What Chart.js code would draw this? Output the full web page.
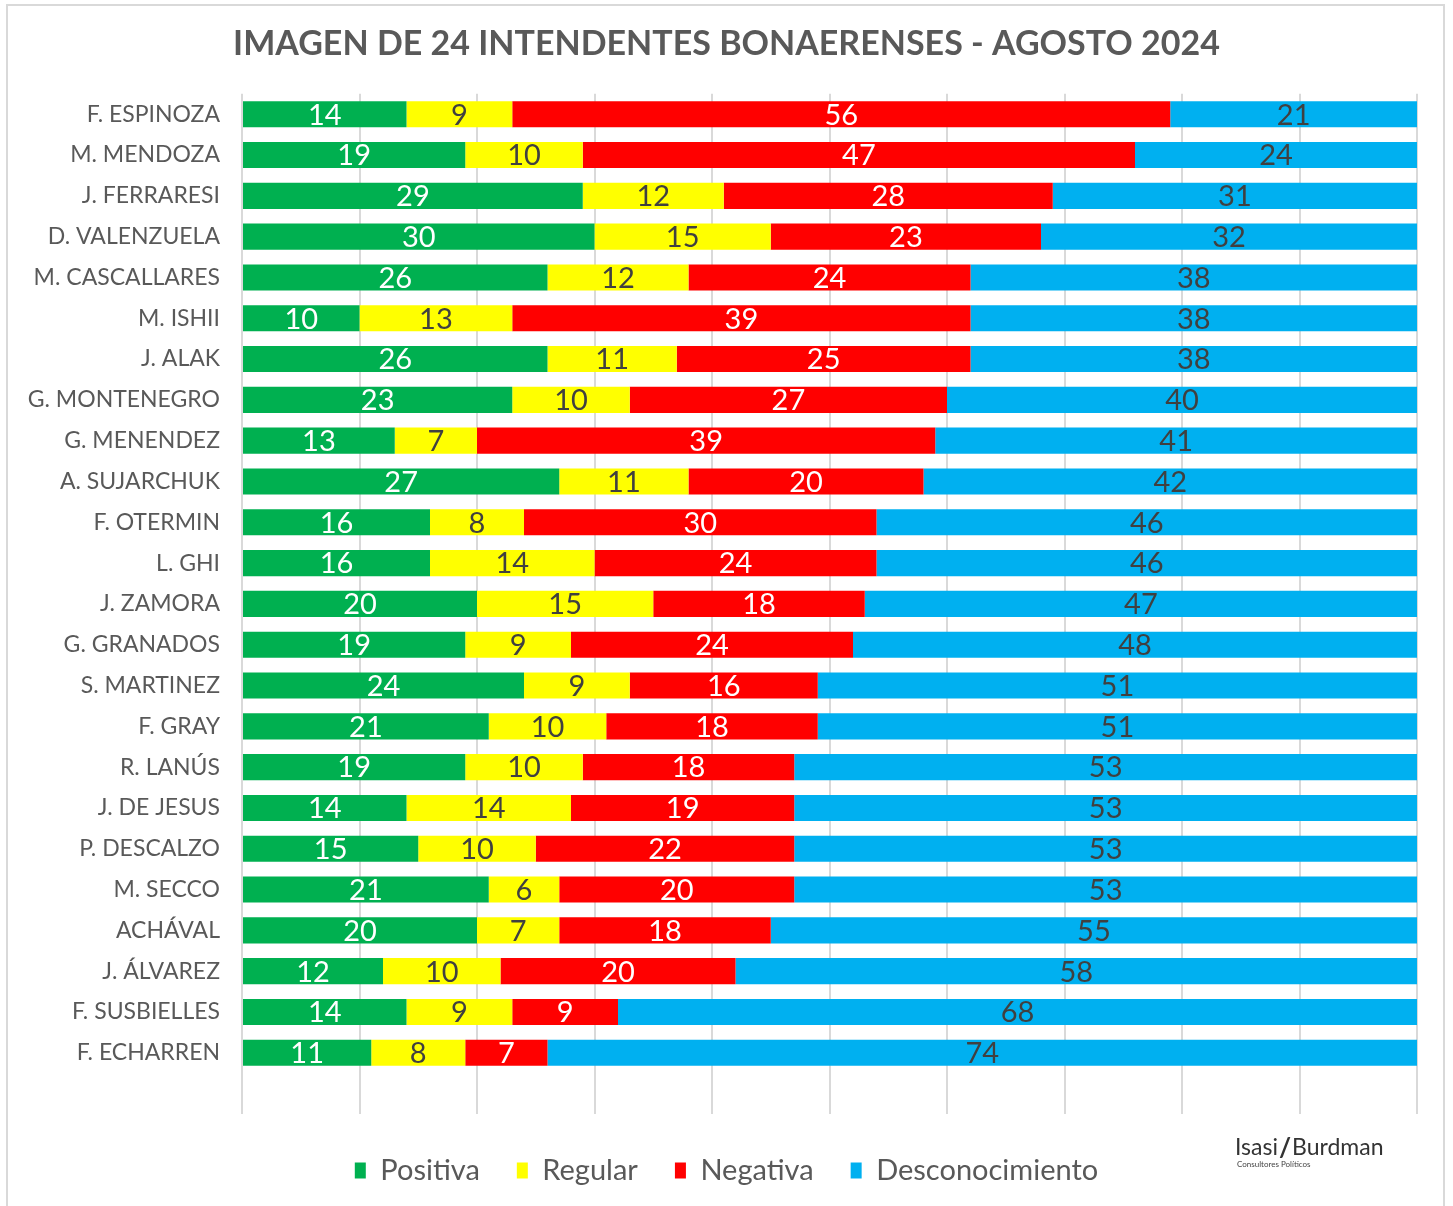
<!DOCTYPE html>
<html>
<head>
<meta charset="utf-8">
<script src="https://cdn.jsdelivr.net/npm/chart.js@4/dist/chart.umd.min.js"></script>
<style>
  html, body { margin: 0; padding: 0; background: #fff; }
  #wrap { position: relative; width: 1453px; height: 1206px; overflow: hidden; }
  #frame { position: absolute; left: 6px; top: 4px; width: 1439px; height: 1240px; border: 2px solid #d9d9d9; box-sizing: border-box; }
  canvas { position: absolute; left: 0; top: 0; }
</style>
</head>
<body>
<div id="wrap">
  <div id="frame"></div>
  <canvas id="c" width="1453" height="1206"></canvas>
</div>
<script>
const categories = [
  'F. ESPINOZA','M. MENDOZA','J. FERRARESI','D. VALENZUELA','M. CASCALLARES','M. ISHII',
  'J. ALAK','G. MONTENEGRO','G. MENENDEZ','A. SUJARCHUK','F. OTERMIN','L. GHI',
  'J. ZAMORA','G. GRANADOS','S. MARTINEZ','F. GRAY','R. LANÚS','J. DE JESUS',
  'P. DESCALZO','M. SECCO','ACHÁVAL','J. ÁLVAREZ','F. SUSBIELLES','F. ECHARREN'
];
const positiva =        [14,19,29,30,26,10,26,23,13,27,16,16,20,19,24,21,19,14,15,21,20,12,14,11];
const regular =         [ 9,10,12,15,12,13,11,10, 7,11, 8,14,15, 9, 9,10,10,14,10, 6, 7,10, 9, 8];
const negativa =        [56,47,28,23,24,39,25,27,39,20,30,24,18,24,16,18,18,19,22,20,18,20, 9, 7];
const desconocimiento = [21,24,31,32,38,38,38,40,41,42,46,46,47,48,51,51,53,53,53,53,55,58,68,74];
const seriesNames = ['Positiva','Regular','Negativa','Desconocimiento'];
const titleText = 'IMAGEN DE 24 INTENDENTES BONAERENSES - AGOSTO 2024';

const labels = [...categories, ''];
const colors = ['#00b050','#ffff00','#ff0000','#00b0f0'];
const labelColors = ['#ffffff','#404040','#ffffff','#404040'];
const seriesData = [positiva, regular, negativa, desconocimiento];

const FONT = 'Lato, "Noto Sans", sans-serif';

const valueLabels = {
  id: 'valueLabels',
  afterDatasetsDraw(chart) {
    const ctx = chart.ctx;
    ctx.save();
    ctx.font = '29px ' + FONT;
    ctx.textAlign = 'center';
    ctx.textBaseline = 'middle';
    chart.data.datasets.forEach((ds, di) => {
      const meta = chart.getDatasetMeta(di);
      meta.data.forEach((el, i) => {
        const v = ds.data[i];
        if (v === null || v === undefined) return;
        ctx.fillStyle = labelColors[di];
        ctx.fillText(String(v), (el.x + el.base) / 2, el.y + 1);
      });
    });
    ctx.restore();
  }
};

const logo = {
  id: 'logo',
  afterDraw(chart) {
    const ctx = chart.ctx;
    ctx.save();
    ctx.fillStyle = '#333333';
    ctx.textBaseline = 'alphabetic';
    ctx.textAlign = 'left';
    ctx.font = '23px ' + FONT;
    let x = 1235;
    ctx.fillText('Isasi', x, 1155);
    x += ctx.measureText('Isasi').width + 1;
    ctx.font = 'bold 26px ' + FONT;
    ctx.fillText('/', x, 1157);
    x += ctx.measureText('/').width + 1;
    ctx.font = '23px ' + FONT;
    ctx.fillText('Burdman', x, 1155);
    ctx.font = '8px ' + FONT;
    ctx.fillStyle = '#444444';
    ctx.fillText('Consultores Políticos', 1237, 1167);
    ctx.restore();
  }
};

new Chart(document.getElementById('c'), {
  type: 'bar',
  data: {
    labels: labels,
    datasets: seriesNames.map((n, i) => ({
      label: n,
      data: seriesData[i],
      backgroundColor: colors[i],
      borderWidth: 0,
      categoryPercentage: 1,
      barPercentage: 0.64
    }))
  },
  options: {
    indexAxis: 'y',
    responsive: false,
    animation: false,
    layout: { padding: { left: 0, right: 0, top: 0, bottom: 11 } },
    scales: {
      x: {
        stacked: true, min: 0, max: 100,
        ticks: { display: false, stepSize: 10 },
        grid: { color: '#d9d9d9', lineWidth: 2, drawTicks: false },
        border: { display: false },
        afterFit: s => { s.height = 5; }
      },
      y: {
        stacked: true,
        ticks: { color: '#595959', font: { family: FONT, size: 23 }, padding: 22, autoSkip: false },
        grid: { display: false, drawTicks: false },
        border: { display: false },
        afterFit: s => { s.width = 242; }
      },
      yRight: {
        type: 'linear', position: 'right', display: true,
        ticks: { display: false }, grid: { display: false, drawTicks: false }, border: { display: false },
        afterFit: s => { s.width = 36; }
      }
    },
    plugins: {
      title: {
        display: true, text: titleText, color: '#595959',
        font: { family: FONT, size: 34, weight: 'bold', lineHeight: 1.2 },
        padding: { top: 24, bottom: 29 }
      },
      legend: {
        position: 'bottom',
        labels: {
          color: '#595959', font: { family: FONT, size: 29 },
          boxWidth: 11, boxHeight: 16, padding: 37
        }
      },
      tooltip: { enabled: false }
    }
  },
  plugins: [valueLabels, logo]
});
</script>
</body>
</html>
